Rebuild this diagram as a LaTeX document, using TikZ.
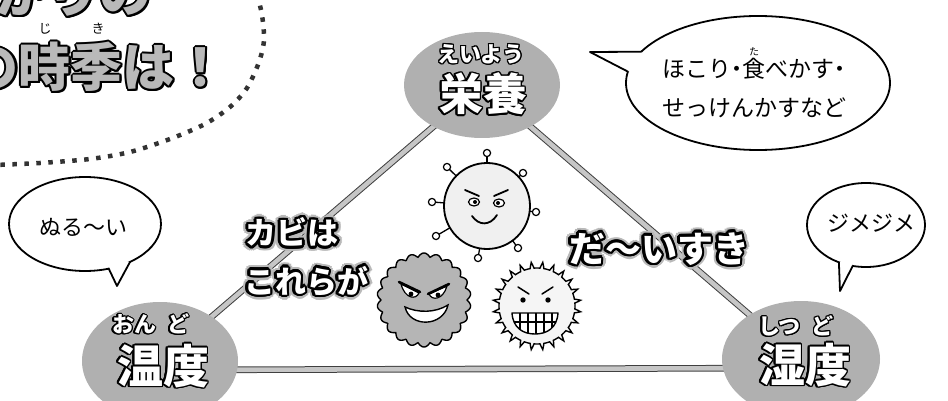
\documentclass[tikz,border=0pt]{standalone}
\usepackage{fontspec}
\newfontfamily\jp{Noto Sans CJK JP}
\usetikzlibrary{shapes.geometric,calc,backgrounds}

\newcommand\fsz[1]{\fontsize{#1}{#1}\selectfont}
% outlined lettering: copies of a box set round a circle, then the box itself on top
\newbox\olbox
\newcommand\olring[2]{%
  \foreach \olang in {0,22.5,...,337.5}{%
    \pgfmathsetlengthmacro\oldx{#1*cos(\olang)}%
    \pgfmathsetlengthmacro\oldy{#1*sin(\olang)}%
    \rlap{\kern\oldx\raisebox{\oldy}{\textcolor{#2}{\copy\olbox}}}}}
\newcommand\outlined[4]{\setbox\olbox\hbox{#4}\olring{#1}{#2}\textcolor{#3}{\copy\olbox}}
\newcommand\haloed[6]{\setbox\olbox\hbox{#6}\olring{#1}{#2}\olring{#3}{#4}\textcolor{#5}{\copy\olbox}}
% small reading above one full-width character
\newcommand\furi[2]{\leavevmode\rlap{\makebox[1em]{\raisebox{0.95em}{\fsz{10}#1}}}#2}
\newcommand\nakaguro{\makebox[0.5em]{・}}

\begin{document}
\begin{tikzpicture}[x=1pt,y=-1pt,
  every node/.style={inner sep=0pt,outer sep=0pt},
  factor/.style={ellipse,fill=gray!62},
  link/.style={draw=black!75,line width=1pt,double=gray!45,double distance=4.6pt},
  bubble/.style={ellipse,draw=black,line width=1.8pt,fill=white},
  tailline/.style={draw=black,line width=1.8pt,line join=round,line cap=round},
  bubtext/.style={font=\jp\fsz{22}},
  ink/.style={draw=black,line width=1.5pt,line cap=round,line join=round},
  dotarc/.style={draw=black!80,line width=4.5pt,dash pattern=on 4.5pt off 7.5pt},
  kanalbl/.style={font=\jp\bfseries\fsz{22}},
  wordlbl/.style={font=\jp\bfseries\fsz{46}},
  headline/.style={font=\jp\bfseries\fsz{52}},
  shout/.style={font=\jp\bfseries\fsz{31}},
]
\useasboundingbox (0,0) rectangle (948,401);
\clip (0,0) rectangle (948,401);

% ---- headline balloon in the corner ----
\node[headline,anchor=base east] (headA) at (152,13) {\outlined{2pt}{black}{gray!55}{広がりの}};
\node[headline,anchor=base west] (headB) at (-33,87) {\outlined{2pt}{black}{gray!55}{の時季は！}};
\node[font=\jp\fsz{13}] (rubyJi) at (45,29) {じ};
\node[font=\jp\fsz{13}] (rubyKi) at (98,29) {き};
\draw[dotarc] plot[smooth] coordinates {(257,-6) (262,15) (264,40) (259,62) (247,88) (230,107) (205,124) (170,139) (130,152) (90,159) (40,163) (-5,165)};

% ---- the three factors ----
\node[factor,minimum width=156,minimum height=106] (nutri) at (482,85) {};
\node[kanalbl] (nutriKana) at (481,54) {\outlined{1.2pt}{black}{white}{えいよう}};
\node[wordlbl,font=\jp\bfseries\fsz{44}] (nutriWord) at (483,94) {\outlined{1.5pt}{black}{white}{栄養}};

\node[factor,minimum width=156,minimum height=118] (temp) at (160,361) {};
\node[kanalbl,anchor=west] (tempKana) at (112,324) {\outlined{1.2pt}{black}{white}{おん\hspace{0.5em}ど}};
\node[wordlbl] (tempWord) at (163,366) {\outlined{1.5pt}{black}{white}{温度}};

\node[factor,minimum width=158,minimum height=116] (humid) at (801,359) {};
\node[kanalbl,anchor=west] (humidKana) at (758,326) {\outlined{1.2pt}{black}{white}{しつ\hspace{0.5em}ど}};
\node[wordlbl] (humidWord) at (805,365) {\outlined{1.5pt}{black}{white}{湿度}};

\begin{scope}[on background layer]
  \draw[link] (nutri.center) -- (temp.center);
  \draw[link] (nutri.center) -- (humid.center);
  \draw[link] ([yshift=-9pt]temp.center) -- ([yshift=-9pt]humid.center);
\end{scope}

% ---- speech bubbles ----
\node[bubble,minimum width=264,minimum height=134] (dust) at (758,83) {};
\coordinate (dustTip) at (590,52);
\fill[white] (dust.165) -- (dustTip) -- (dust.175) -- ($(dust.170)!0.15!(dust.center)$) -- cycle;
\draw[tailline] (dust.165) -- (dustTip) -- (dust.175);
\node[anchor=west,align=left,font=\jp\fontsize{23}{39}\selectfont] (dustText) at (662,83)
  {ほこり\nakaguro\furi{た}{食}べかす\nakaguro\\せっけんかすなど};

\node[bubble,minimum width=152,minimum height=94] (warm) at (85,224) {};
\coordinate (warmTip) at (117,286);
\fill[white] (warm.-40) -- (warmTip) -- (warm.-62) -- ($(warm.-51)!0.15!(warm.center)$) -- cycle;
\draw[tailline] (warm.-40) -- (warmTip) -- (warm.-62);
\node[bubtext] (warmText) at (83,227) {ぬる～い};

\node[bubble,minimum width=118,minimum height=84] (damp) at (866,225) {};
\coordinate (dampTip) at (840,291);
\fill[white] (damp.-108) -- (dampTip) -- (damp.-126) -- ($(damp.-117)!0.15!(damp.center)$) -- cycle;
\draw[tailline] (damp.-108) -- (dampTip) -- (damp.-126);
\node[bubtext] (dampText) at (871,223) {ジメジメ};

% ---- spore with knobbed spikes ----
\coordinate (vc) at (487,206);
\foreach \kx/\ky in {487/153,523/173,536/212,518/248,478/258,436/236,432/202,447/167}
  \draw[line width=1.3pt] (vc) -- (\kx,\ky);
\node[circle,draw,line width=1.8pt,fill=gray!12,minimum size=86] (virus) at (vc) {};
\foreach \kx/\ky in {487/153,523/173,536/212,518/248,478/258,436/236,432/202,447/167}
  \draw[line width=1.2pt,fill=white] (\kx,\ky) circle[radius=3.6];
\draw[ink,line width=1.8pt] (465,190) -- (479,196);
\draw[ink,line width=1.8pt] (494,196) -- (508,190);
\draw[line width=1.2pt,fill=white] (474,202) ellipse[x radius=5.5,y radius=4];
\draw[line width=1.2pt,fill=white] (499,203) ellipse[x radius=5.5,y radius=4];
\fill (475,202) circle[radius=2];
\fill (498,203) circle[radius=2];
\draw[ink,line width=1.8pt] (472,216) .. controls (479,226) and (490,226) .. (497,215);

% ---- dark scalloped spore ----
\draw[line width=1.4pt,fill=gray!58] plot[domain=0:359,samples=360]
  ({424+(43+4*abs(sin(11*\x)))*cos(\x)},{300+(43+4*abs(sin(11*\x)))*sin(\x)}) -- cycle;
\draw[line width=1.2pt,fill=white] (401,284) -- (419,293) .. controls (416,300) and (405,299) .. (401,284) -- cycle;
\draw[line width=1.2pt,fill=white] (447,286) -- (429,294) .. controls (432,301) and (443,300) .. (447,286) -- cycle;
\draw[ink,line width=2.6pt] (399,282) -- (420,292);
\draw[ink,line width=2.6pt] (449,284) -- (428,294);
\fill (411,294) circle[radius=2.4];
\fill (438,295) circle[radius=2.4];
\draw[line width=1.4pt,fill=white] (405,307) .. controls (418,313) and (435,313) .. (448,305)
  .. controls (443,327) and (410,328) .. (405,307) -- cycle;

% ---- pale spiky spore ----
\draw[line width=1.4pt,fill=gray!8] plot[domain=0:358.5,samples=240]
  ({537+(38+6*max(0,1-abs(mod(\x,15)-7.5)/3))*cos(\x)},{306+(38+6*max(0,1-abs(mod(\x,15)-7.5)/3))*sin(\x)}) -- cycle;
\fill (523,300) circle[radius=2.7];
\fill (548,300) circle[radius=2.7];
\draw[ink] (518,287) -- (529,294);
\draw[ink] (553,287) -- (542,294);
\def\grinmouth{(512,313) -- (558,313) .. controls (557,328) and (547,334) .. (535,334) .. controls (523,334) and (513,328) .. (512,313) -- cycle}
\fill[white] \grinmouth;
\begin{scope}
  \clip \grinmouth;
  \draw[line width=1.1pt] (510,322) -- (560,322);
  \foreach \tx in {520,528,536,544,552} \draw[line width=1.1pt] (\tx,311) -- (\tx,336);
\end{scope}
\draw[line width=1.4pt,line join=round] \grinmouth;

% ---- shouted captions ----
\node[shout] (kabiA) at (292,232) {\haloed{5pt}{gray!55}{2.6pt}{black}{white}{カビは}};
\node[shout] (kabiB) at (306,281) {\haloed{5pt}{gray!55}{2.6pt}{black}{white}{これらが}};
\node[shout,font=\jp\bfseries\fsz{36}] (loves) at (659,249) {\haloed{5pt}{gray!55}{2.6pt}{black}{white}{だ～いすき}};
\end{tikzpicture}
\end{document}
